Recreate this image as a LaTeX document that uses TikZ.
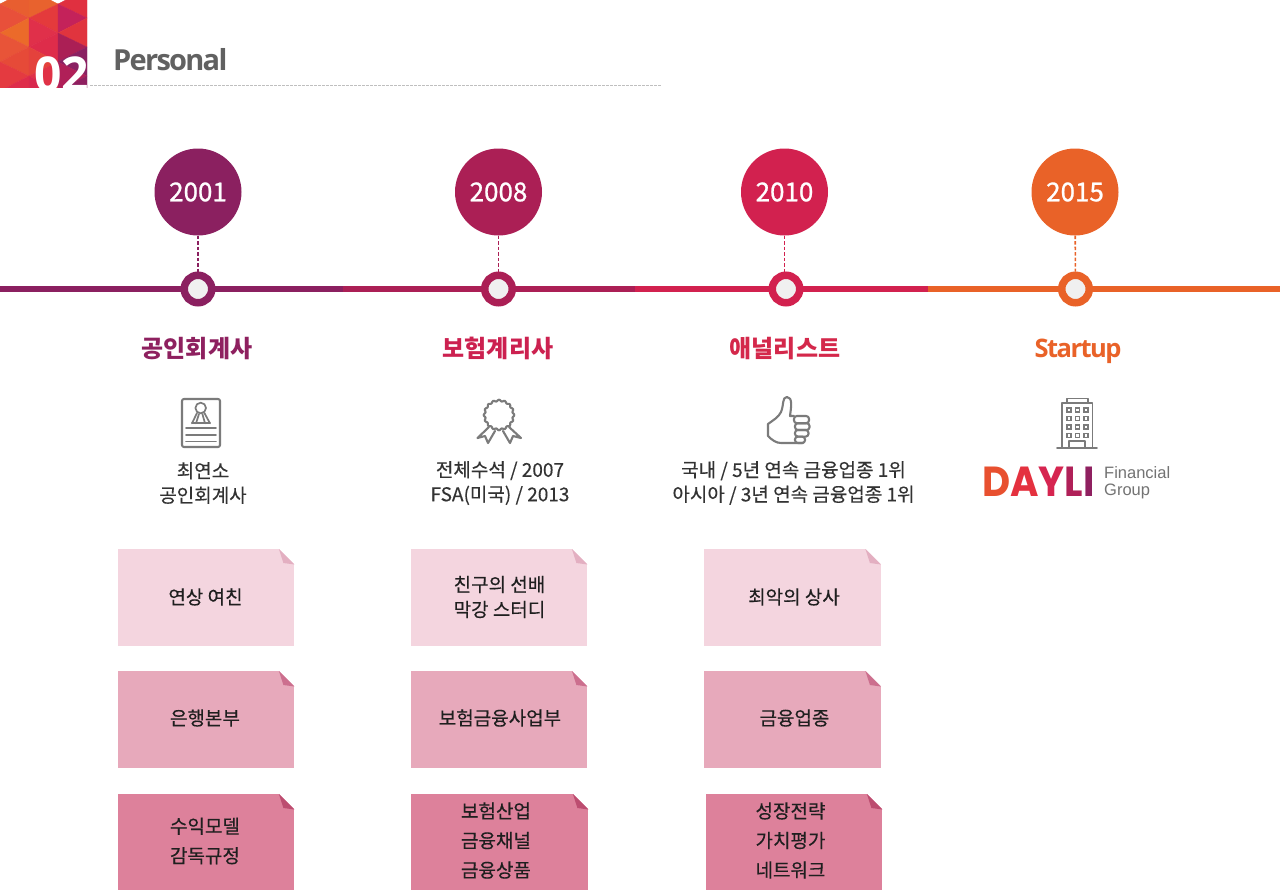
\documentclass[tikz,border=0pt]{standalone}
\usepackage{fontspec}
\setmainfont{Noto Sans CJK KR}
\newfontfamily\bodyfont[FakeBold=0.3]{Noto Sans CJK KR}
\newfontfamily\yearfont[FakeBold=0.9]{Noto Sans CJK KR}
\newfontfamily\latinfont{Open Sans}
\newfontfamily\semifont[LetterSpace=-6]{Open Sans}
\newfontfamily\logofont{Poppins}
\newfontfamily\grpfont{Liberation Sans}
\usetikzlibrary{calc}
\definecolor{cA}{HTML}{8B2060}
\definecolor{cB}{HTML}{AB1F55}
\definecolor{cC}{HTML}{D2214F}
\definecolor{cD}{HTML}{E96228}
\definecolor{noteA}{HTML}{F4D5DF}
\definecolor{noteB}{HTML}{E7A9BB}
\definecolor{noteC}{HTML}{DD819B}
\definecolor{foldA}{HTML}{E3AFC1}
\definecolor{foldB}{HTML}{CC6F8E}
\definecolor{foldC}{HTML}{BC4D70}
\definecolor{icon}{HTML}{7B7B7B}
\definecolor{logoA}{HTML}{E8502F}
\definecolor{logoB}{HTML}{E4313F}
\definecolor{logoC}{HTML}{D62550}
\definecolor{logoD}{HTML}{B02058}
\definecolor{logoE}{HTML}{8F2060}
\tikzset{
  yearnode/.style={circle,minimum size=87pt,inner sep=0pt,text=white,font=\yearfont\fontsize{26}{26}\selectfont},
  ringnode/.style={circle,minimum size=27.5pt,inner sep=0pt,line width=7.5pt,fill=white!94!black},
  tieline/.style={dash pattern=on 3.5pt off 2pt,line width=1.6pt},
  railline/.style={line width=6.5pt},
  headline/.style={anchor=base,inner sep=0pt,font=\bfseries\fontsize{24}{24}\selectfont},
  bodytext/.style={align=center,text=black!80,font=\bodyfont\fontsize{19}{24.5}\selectfont},
  notelabel/.style={align=center,text=black!88,font=\bodyfont\fontsize{19}{29.5}\selectfont},
  iconline/.style={draw=icon,line width=2.1pt,line join=round,line cap=round},
  thinicon/.style={draw=icon,line width=1.7pt,line join=round,line cap=round},
  notebox/.style={rectangle,inner sep=0pt,anchor=north west},
}
\newcommand{\tileTri}[4]{\definecolor{tmpc}{HTML}{#1}\fill[tmpc] #2 -- #3 -- #4 -- cycle;\draw[tmpc,line width=0.3pt] #2 -- #3 -- #4 -- cycle;}
\newcommand{\foldednote}[7]{% name, x, y, w, h, fill, fold
  \node[notebox,fill=#6,minimum width=#4pt,minimum height=#5pt] (#1) at (#2,#3) {};
  \fill[white] ($(#1.north east)+(-15.5pt,0.5pt)$) -- ($(#1.north east)+(0.5pt,0.5pt)$) -- ($(#1.north east)+(0.5pt,-15.5pt)$) -- cycle;
  \fill[#7] ($(#1.north east)+(-15.5pt,0pt)$) -- ($(#1.north east)+(0pt,-15.5pt)$) -- ($(#1.north east)+(-11pt,-14pt)$) -- cycle;
}
\begin{document}
\begin{tikzpicture}[x=1pt,y=-1pt]
\useasboundingbox (0,0) rectangle (1280,894);
\fill[white] (0,0) rectangle (1280,894);
% header tile
\begin{scope}
\clip (0,0) rectangle (87,87.5);
\tileTri{E85E30}{(0,4)}{(29,-11)}{(29,18)}
\tileTri{E8503A}{(29,18)}{(0,4)}{(0,33)}
\tileTri{EB6A2A}{(0,33)}{(29,18)}{(29,47)}
\tileTri{E85438}{(29,47)}{(0,33)}{(0,62)}
\tileTri{E64A38}{(0,62)}{(29,47)}{(29,76)}
\tileTri{E43A40}{(29,76)}{(0,62)}{(0,91)}
\tileTri{DE2C4A}{(0,91)}{(29,76)}{(29,105)}
\tileTri{E8622E}{(29,-11)}{(58,4)}{(29,18)}
\tileTri{E43A3C}{(58,4)}{(58,33)}{(29,18)}
\tileTri{E0304A}{(29,18)}{(58,33)}{(29,47)}
\tileTri{DE2C4A}{(58,33)}{(58,62)}{(29,47)}
\tileTri{E4423C}{(29,47)}{(58,62)}{(29,76)}
\tileTri{E03246}{(58,62)}{(58,91)}{(29,76)}
\tileTri{D8284E}{(29,76)}{(58,91)}{(29,105)}
\tileTri{E03040}{(58,4)}{(87,-11)}{(87,18)}
\tileTri{C4225A}{(58,4)}{(87,18)}{(58,33)}
\tileTri{E0343E}{(58,33)}{(87,18)}{(87,47)}
\tileTri{AB1F55}{(58,33)}{(87,47)}{(58,62)}
\tileTri{8A2062}{(58,62)}{(87,47)}{(87,76)}
\tileTri{B02058}{(58,62)}{(87,76)}{(58,91)}
\tileTri{8F1F60}{(58,91)}{(87,76)}{(87,105)}
\node[text=white,anchor=base west,inner sep=0pt,font=\latinfont\bfseries\fontsize{48}{48}\selectfont] (secnum) at (34,91) {02};
\end{scope}
\node[anchor=base west,inner sep=0pt,text=black!62,font=\semifont\bfseries\fontsize{29}{29}\selectfont] (sectitle) at (113,70) {Personal};
\coordinate (ruleL) at (90,85.5);
\coordinate (ruleR) at (661,85.5);
\draw[dash pattern=on 2.5pt off 1.5pt,line width=0.8pt,draw=black!25] (ruleL) -- (ruleR);
% rail
\coordinate (railO) at (0,289);
\coordinate (railAB) at (343,289);
\coordinate (railBC) at (635,289);
\coordinate (railCD) at (928,289);
\coordinate (railE) at (1280,289);
\draw[railline,cA] (railO) -- (railAB);
\draw[railline,cB] (railAB) -- (railBC);
\draw[railline,cC] (railBC) -- (railCD);
\draw[railline,cD] (railCD) -- (railE);
% years
\node[yearnode,fill=cA] (y1) at (198,192) {\raisebox{-2.5pt}{2001}};
\node[yearnode,fill=cB] (y2) at (498.5,192) {\raisebox{-2.5pt}{2008}};
\node[yearnode,fill=cC] (y3) at (784.5,192) {\raisebox{-2.5pt}{2010}};
\node[yearnode,fill=cD] (y4) at (1075,192) {\raisebox{-2.5pt}{2015}};
\node[ringnode,draw=cA] (r1) at (198,289) {};
\node[ringnode,draw=cB] (r2) at (498.5,289) {};
\node[ringnode,draw=cC] (r3) at (786,289) {};
\node[ringnode,draw=cD] (r4) at (1075.5,289) {};
\draw[tieline,cA] (y1) -- (r1);
\draw[tieline,cB] (y2) -- (r2);
\draw[tieline,cC] (y3.south) -- (y3.south |- r3.north);
\draw[tieline,cD] (y4) -- (r4);
% headings
\node[headline,text=cA!90!cB] (h1) at (197,357) {공인회계사};
\node[headline,text=cC!85!cB] (h2) at (498,357) {보험계리사};
\node[headline,text=cC!90!cD] (h3) at (785,357) {애널리스트};
\node[headline,text=cD,font=\semifont\bfseries\fontsize{25.5}{26}\selectfont] (h4) at (1078,357) {Startup};
% certificate icon
\draw[iconline,rounded corners=2pt] (182,399) rectangle (220,447);
\draw[thinicon] (200.7,408) circle (5.3);
\draw[thinicon] (192,423.3) -- (210,423.3);
\draw[thinicon] (197,413) -- (192,423.3) (199,414) -- (196,423.3) (204.4,413) -- (210,423.3) (202.4,414) -- (205,423.3);
\draw[thinicon] (186,428) -- (216,428) (186,435) -- (216,435) (186,441.5) -- (216,441.5);
% medal icon
\draw[iconline] plot[smooth,samples=97,domain=0:360,variable=\t] ({499+(14.5+0.8*cos(16*\t))*cos(\t)},{415+(14.5+0.8*cos(16*\t))*sin(\t)});
\draw[iconline] (489,427) -- (477.5,438) -- (485,436) -- (488,443) -- (495,431);
\draw[iconline] (509,427) -- (521,438) -- (513,436) -- (510,443) -- (503,431);
% thumb icon
\draw[iconline] (794,416) -- (790,416) .. controls (791,408) and (793,397) .. (787,397) .. controls (782,397) and (784,405) .. (781,412) .. controls (779,417) and (772,421) .. (768,424) -- (768,436) .. controls (772,440) and (776,443) .. (781,443) -- (803,443);
\draw[iconline,rounded corners=2.8pt] (794,416) rectangle (809,423.2);
\draw[iconline,rounded corners=2.8pt] (795,423.2) rectangle (809.5,430);
\draw[iconline,rounded corners=2.8pt] (795,430) rectangle (808.5,436.6);
\draw[iconline,rounded corners=2.8pt] (795,436.6) rectangle (805,443);
% building icon
\draw[thinicon] (1057,448) -- (1097,448);
\draw[thinicon] (1062,448) -- (1062,403) -- (1092.5,403) -- (1092.5,448);
\draw[thinicon] (1067,403) -- (1067,398.5) -- (1088,398.5) -- (1088,403);
\draw[thinicon] (1069,448) -- (1069,441) -- (1085,441) -- (1085,448);
\foreach \wy in {410,418.5,427,435.5} \foreach \wx in {1069,1077.5,1086} {
  \draw[draw=icon,line width=1.4pt] (\wx-2,\wy-2) rectangle (\wx+2,\wy+2);
}
% body text
\node[bodytext] (b1) at (203,483) {최연소\\공인회계사};
\node[bodytext] (b2) at (500,483) {전체수석 / 2007\\FSA(미국) / 2013};
\node[bodytext] (b3) at (793.5,483) {국내 / 5년 연속 금융업종 1위\\아시아 / 3년 연속 금융업종 1위};
% logo
\node[anchor=base west,inner sep=0pt,font=\logofont\bfseries\fontsize{42}{42}\selectfont] (logo) at (982,496) {\scalebox{0.92}[1]{\textcolor{logoA}{D}\textcolor{logoB}{A}\textcolor{logoC}{Y}\textcolor{logoD}{L}\textcolor{logoE}{I}}};
\node[anchor=north west,inner sep=0pt,align=left,text=black!55,font=\grpfont\fontsize{16.5}{17}\selectfont] (grp) at (1104,466) {Financial\\Group};
% notes
\foldednote{n11}{118}{549}{176}{97}{noteA}{foldA}
\foldednote{n12}{411}{549}{176}{97}{noteA}{foldA}
\foldednote{n13}{704}{549}{176.5}{97}{noteA}{foldA}
\foldednote{n21}{118}{671}{176}{97}{noteB}{foldB}
\foldednote{n22}{411}{671}{176}{97}{noteB}{foldB}
\foldednote{n23}{704}{671}{176.5}{97}{noteB}{foldB}
\foldednote{n31}{118}{794}{176}{96}{noteC}{foldC}
\foldednote{n32}{411}{794}{177}{96}{noteC}{foldC}
\foldednote{n33}{706}{794}{176}{96}{noteC}{foldC}
\node[notelabel] (t11) at (205.5,597) {연상 여친};
\node[notelabel,font=\bodyfont\fontsize{19}{25}\selectfont] (t12) at (499.5,597) {친구의 선배\\막강 스터디};
\node[notelabel] (t13) at (794,597) {최악의 상사};
\node[notelabel] (t21) at (205,718) {은행본부};
\node[notelabel] (t22) at (500,718) {보험금융사업부};
\node[notelabel] (t23) at (794.5,718) {금융업종};
\node[notelabel] (t31) at (205,841) {수익모델\\감독규정};
\node[notelabel] (t32) at (496,840.5) {보험산업\\금융채널\\금융상품};
\node[notelabel] (t33) at (790.5,840.5) {성장전략\\가치평가\\네트워크};
\end{tikzpicture}
\end{document}
